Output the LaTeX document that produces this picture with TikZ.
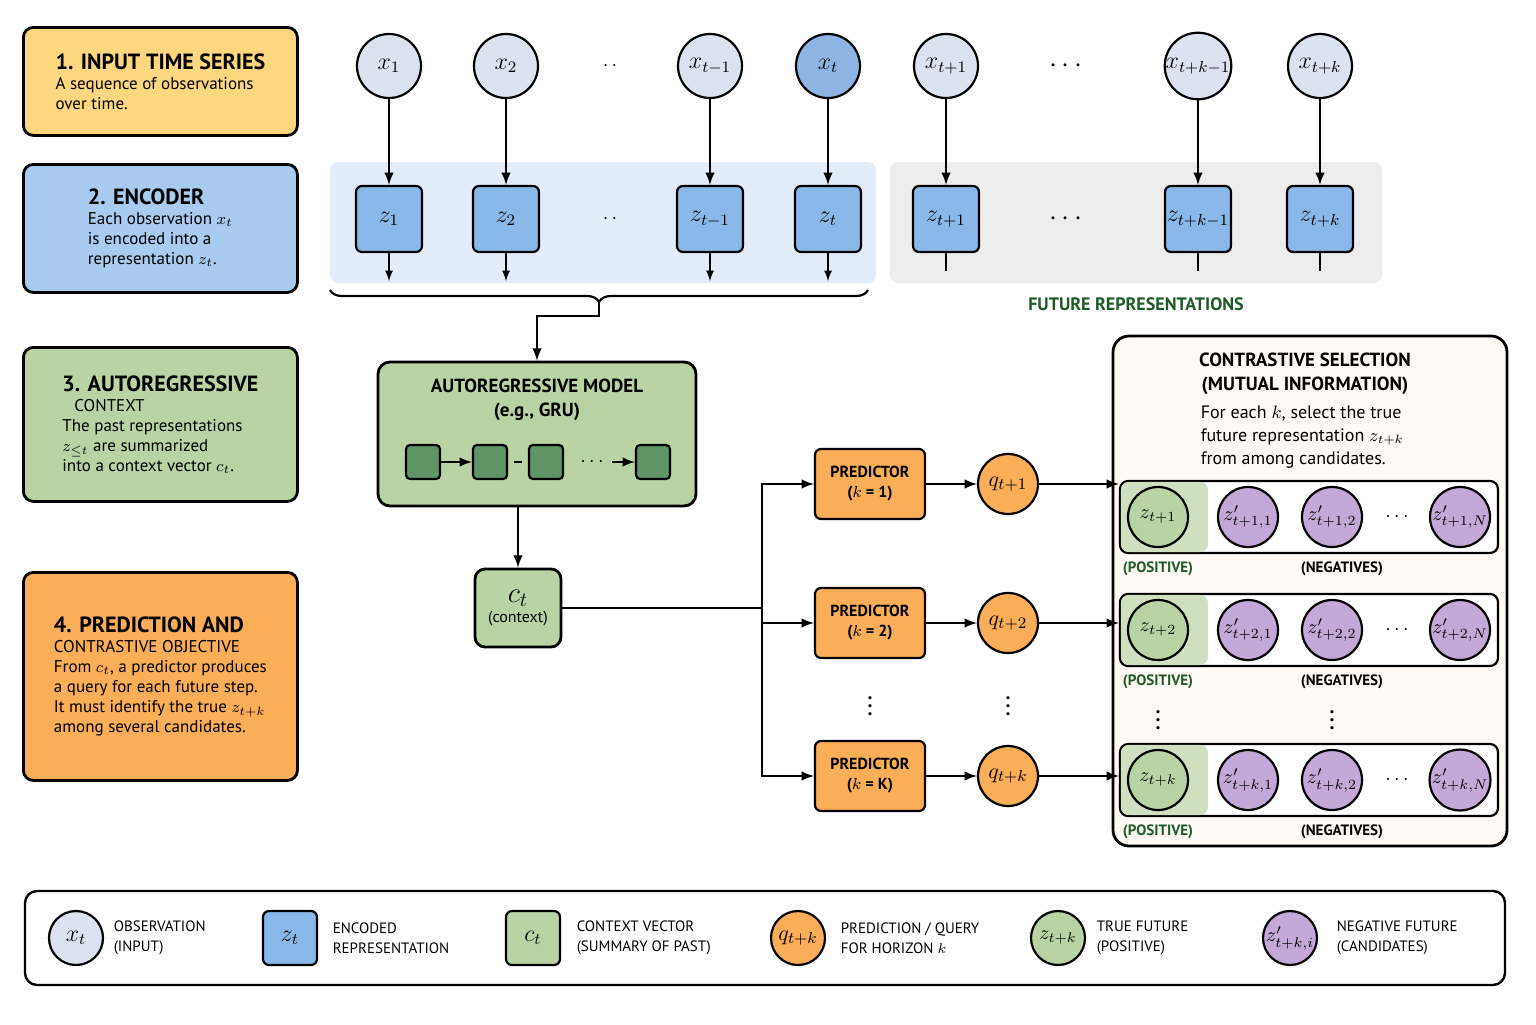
\documentclass[tikz,border=0pt]{standalone}
\usepackage{fontspec}
\setmainfont{PT Sans}
\usetikzlibrary{positioning,decorations.pathreplacing}
\definecolor{obsfill}{HTML}{DCE3F0}
\definecolor{obsdark}{HTML}{8DB4E2}
\definecolor{encfill}{HTML}{8AB8E8}
\definecolor{ctxfill}{HTML}{BAD3A5}
\definecolor{ctxdark}{HTML}{5E9466}
\definecolor{predfill}{HTML}{FBAE58}
\definecolor{negfill}{HTML}{C3A8D8}
\definecolor{panelyel}{HTML}{FCD77F}
\definecolor{panelblu}{HTML}{A9CBEF}
\definecolor{darkgrn}{HTML}{1F5A2A}
\begin{document}
\begin{tikzpicture}[x=0.5pt,y=-0.5pt,line width=1.1pt,
    panel/.style={draw,rounded corners=5pt,line width=1.4pt,anchor=north west,align=left,
      minimum width=137pt,inner sep=5pt,font=\fontsize{8.5}{10}\selectfont},
    obsnode/.style={draw,circle,fill=obsfill,minimum size=32pt,inner sep=0pt,font=\fontsize{12}{12}\selectfont},
    encnode/.style={draw,rounded corners=3pt,fill=encfill,minimum size=33pt,inner sep=0pt,font=\fontsize{12}{12}\selectfont},
    arbox/.style={draw,rounded corners=2pt,fill=ctxdark,minimum size=17pt,inner sep=0pt},
    prednode/.style={draw,rounded corners=3pt,fill=predfill,minimum width=55pt,minimum height=35pt,align=center,
      font=\fontsize{8}{10}\selectfont\bfseries},
    querynode/.style={draw,circle,fill=predfill,minimum size=30pt,inner sep=0pt,font=\fontsize{11}{11}\selectfont},
    posnode/.style={draw,circle,fill=ctxfill,minimum size=30pt,inner sep=0pt,font=\fontsize{10}{10}\selectfont},
    negnode/.style={draw,circle,fill=negfill,minimum size=30pt,inner sep=0pt,font=\fontsize{10}{10}\selectfont},
    rowbox/.style={draw,rounded corners=4pt,fill=white,minimum width=189pt,minimum height=36pt},
    tagtext/.style={font=\fontsize{7.5}{9}\selectfont\bfseries},
    legtxt/.style={anchor=west,align=left,font=\fontsize{7.5}{10}\selectfont},
    arr/.style={-latex}]
\useasboundingbox (0,0) rectangle (1536,1024);
% left panels
\node[panel,fill=panelyel,minimum height=54pt] (p1) at (22,26)
  {\fontsize{11}{13}\selectfont\bfseries 1. INPUT TIME SERIES\\\fontsize{8.5}{12}\selectfont\mdseries A sequence of observations\\over time.};
\node[panel,fill=panelblu,minimum height=64pt] (p2) at (22,163)
  {\fontsize{11}{13}\selectfont\bfseries 2. ENCODER\\\fontsize{8.5}{12}\selectfont\mdseries Each observation $x_t$\\is encoded into a\\representation $z_t$.};
\node[panel,fill=ctxfill,minimum height=77pt] (p3) at (22,346)
  {\fontsize{11}{13}\selectfont\bfseries 3. AUTOREGRESSIVE\\\hspace*{6pt}CONTEXT\\\fontsize{8.5}{12}\selectfont\mdseries The past representations\\$z_{\le t}$ are summarized\\into a context vector $c_t$.};
\node[panel,fill=predfill,minimum height=104pt] (p4) at (22,571)
  {\fontsize{11}{15}\selectfont\bfseries 4. PREDICTION AND\\CONTRASTIVE OBJECTIVE\\\fontsize{8.5}{14}\selectfont\mdseries From $c_t$, a predictor produces\\a query for each future step.\\It must identify the true $z_{t+k}$\\among several candidates.};
% encoder backgrounds
\fill[encfill!25,rounded corners=4pt] (330,162) rectangle (876,283);
\fill[black!7,rounded corners=4pt] (890,162) rectangle (1382,283);
% observations and encodings
\foreach \nm/\xx/\lbl in {1/389/1,2/506/2,3/710/{t-1},5/946/{t+1},6/1198/{t+k-1},7/1320/{t+k}}{
  \node[obsnode] (x\nm) at (\xx,66) {$x_{\lbl}$};
  \node[encnode] (z\nm) at (\xx,219) {$z_{\lbl}$};
  \draw[arr] (x\nm) -- (z\nm);
}
\node[obsnode,fill=obsdark] (x4) at (828,66) {$x_t$};
\node[encnode] (z4) at (828,219) {$z_t$};
\draw[arr] (x4) -- (z4);
\node[font=\bfseries] at (610,66) {$\cdot\,\cdot$};
\node[font=\bfseries] at (610,219) {$\cdot\,\cdot$};
\node[font=\Large\bfseries] at (1066,66) {$\cdots$};
\node[font=\Large\bfseries] at (1066,219) {$\cdots$};
\foreach \nm in {1,2,3,4}{
  \coordinate (d\nm) at ([yshift=-14pt]z\nm.south);
  \draw[arr,line width=0.8pt] (z\nm) -- (d\nm);
}
\foreach \nm in {5,6,7}{
  \coordinate (d\nm) at ([yshift=-9pt]z\nm.south);
  \draw[line width=0.8pt] (z\nm) -- (d\nm);
}
\draw[decorate,decoration={brace,mirror,amplitude=6pt}] (330,290) -- (868,290) coordinate[midway] (bmid);
\node[font=\fontsize{9}{10}\selectfont\bfseries,text=darkgrn] (fut) at (1136,304) {FUTURE REPRESENTATIONS};
% autoregressive model
\node[draw,rounded corners=6pt,line width=1.4pt,fill=ctxfill,minimum width=159pt,minimum height=72pt] (ar) at (537,434) {};
\node[align=center,font=\fontsize{9.5}{12}\selectfont\bfseries] at (537,400) {AUTOREGRESSIVE MODEL\\(e.g., GRU)};
\node[arbox] (g1) at (423,462) {};
\node[arbox] (g2) at (490,462) {};
\node[arbox] (g3) at (546,462) {};
\node[arbox] (g4) at (653,462) {};
\draw[arr] (g1) -- (g2);
\draw[line width=1.4pt] ([xshift=3pt]g2.east) -- ([xshift=-3pt]g3.west);
\node at (592,462) {$\cdots$};
\draw[arr] (612,462) -- (g4);
\draw[arr] (bmid) ++(0,12) -- ++(0,14) -| (ar.north);
\node[draw,rounded corners=5pt,line width=1.4pt,fill=ctxfill,minimum width=43pt,minimum height=39pt,align=center,
  font=\fontsize{8}{10}\selectfont] (ct) at (518,608) {{\fontsize{14}{14}\selectfont$c_t$}\\(context)};
\draw[arr] (ar.south -| ct) -- (ct);
% predictors
\coordinate (split) at (762,608);
\draw (ct) -- (split);
\foreach \nm/\yy/\kk/\ql in {1/484/1/{t+1},2/623/2/{t+2},3/776/K/{t+k}}{
  \node[prednode] (pr\nm) at (870,\yy) {PREDICTOR\\($k$ = \kk)};
  \node[querynode] (q\nm) at (1008,\yy) {$q_{\ql}$};
  \draw[arr] (split) |- (pr\nm);
  \draw[arr] (pr\nm) -- (q\nm);
}
\node[font=\bfseries] at (870,700) {$\vdots$};
\node[font=\bfseries] at (1008,700) {$\vdots$};
% contrastive selection
\node[draw,rounded corners=8pt,line width=1.4pt,fill=orange!4,minimum width=197pt,minimum height=255pt] (cs) at (1310,591) {};
\node[align=center,font=\fontsize{9.5}{12}\selectfont\bfseries] at (1305,374) {CONTRASTIVE SELECTION\\(MUTUAL INFORMATION)};
\node[align=left,font=\fontsize{9}{11.5}\selectfont,anchor=north west] at (1193,398)
  {For each $k$, select the true\\future representation $z_{t+k}$\\from among candidates.};
\foreach \nm/\yy/\sb in {1/517/{t+1},2/630/{t+2},3/780/{t+k}}{
  \node[rowbox] (row\nm) at (1309,\yy) {};
  \fill[ctxfill!70,rounded corners=4pt] ([shift={(1pt,-1pt)}]row\nm.north west) rectangle (1208,\yy+35);
  \node[posnode] (pz\nm) at (1158,\yy) {$z_{\sb}$};
  \node[negnode] (na\nm) at (1248,\yy) {$z'_{\sb,1}$};
  \node[negnode] (nb\nm) at (1332,\yy) {$z'_{\sb,2}$};
  \node at (1397,\yy) {$\cdots$};
  \node[negnode] (nc\nm) at (1460,\yy) {$z'_{\sb,N}$};
  \node[tagtext,text=darkgrn] (ps\nm) at (1158,\yy+52) {(POSITIVE)};
  \node[tagtext] (ng\nm) at (1342,\yy+52) {(NEGATIVES)};
  \draw[arr] (q\nm) -- (q\nm -| row\nm.west);
}
\node[font=\bfseries] at (1158,714) {$\vdots$};
\node[font=\bfseries] at (1332,714) {$\vdots$};
% legend
\node[draw,rounded corners=6pt,line width=1.2pt,minimum width=740pt,minimum height=47pt] (leg) at (765,938) {};
\node[obsnode,minimum size=27pt] (l1) at (76,938) {$x_t$};
\node[legtxt] at (106,938) {OBSERVATION\\(INPUT)};
\node[encnode,minimum size=27pt] (l2) at (290,938) {$z_t$};
\node[legtxt] at (325,938) {ENCODED\\REPRESENTATION};
\node[encnode,fill=ctxfill,minimum size=27pt] (l3) at (533,938) {$c_t$};
\node[legtxt] at (569,938) {CONTEXT VECTOR\\(SUMMARY OF PAST)};
\node[querynode,minimum size=27pt] (l4) at (798,938) {$q_{t+k}$};
\node[legtxt] at (833,938) {PREDICTION / QUERY\\FOR HORIZON $k$};
\node[posnode,minimum size=27pt] (l5) at (1058,938) {$z_{t+k}$};
\node[legtxt] at (1089,938) {TRUE FUTURE\\(POSITIVE)};
\node[negnode,minimum size=27pt] (l6) at (1290,938) {$z'_{t+k,i}$};
\node[legtxt] at (1329,938) {NEGATIVE FUTURE\\(CANDIDATES)};
\end{tikzpicture}
\end{document}
